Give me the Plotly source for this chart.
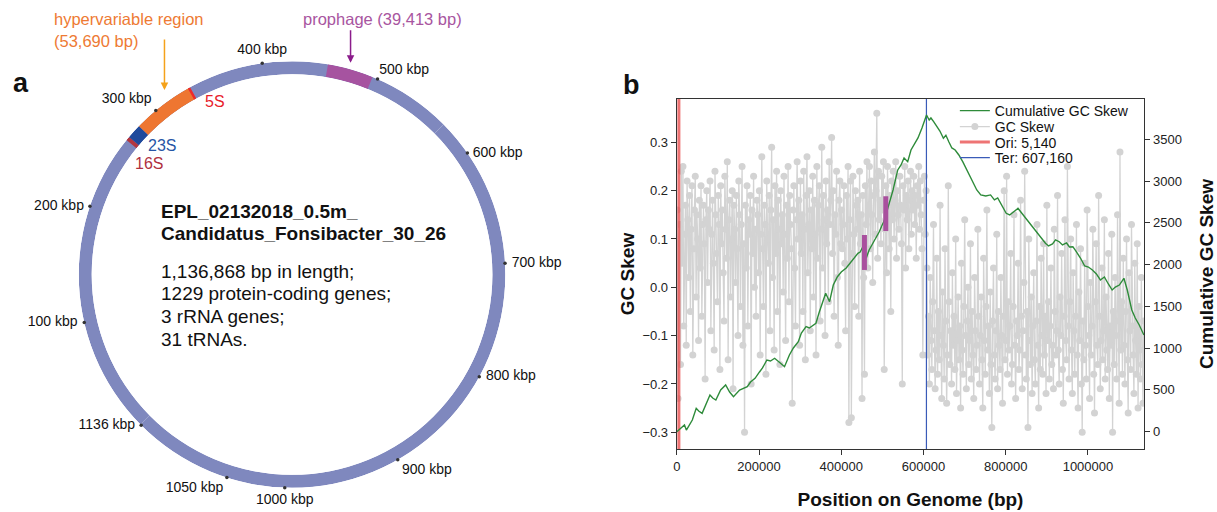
import numpy as np
import plotly.graph_objects as go

W, H = 1217, 512
genome_len = 1136868

# ---------------- panel a : circular genome ----------------
feat_name = ["16S", "23S", "hypervariable region", "5S", "prophage"]
feat_start = [264500, 268000, 280400, 333000, 456000]
feat_end = [268000, 280400, 334090, 335200, 495413]
feat_color = ["#B3363F", "#1F4A9C", "#EE7631", "#EE2A2A", "#A653A0"]
ring_color = "#7F88BE"

tick_kbp = [100, 200, 300, 400, 500, 600, 700, 800, 900, 1000, 1050, 1136]
tick_textpos = ["middle left", "middle left", "top left", "top center", "top right",
                "middle right", "middle right", "middle right", "bottom right",
                "bottom center", "bottom left", "middle left"]
tick_gap = [9, 8, 5, 7, 1, 7, 9, 9, 5, 8, 4, 8]

info_title = ["EPL_02132018_0.5m_", "Candidatus_Fonsibacter_30_26"]
info_lines = ["1,136,868 bp in length;", "1229 protein-coding genes;",
              "3 rRNA genes;", "31 tRNAs."]

# ---------------- panel b : GC skew ----------------
ori_bp = 5140
ter_bp = 607160
skew_first, skew_last = 1000, 1135800
gc_skew = [
    # origin -> terminus (leading strand, mostly positive)
    0.16, -0.23, 0.09, 0.13, -0.16, 0.24, 0.05, 0.25, -0.08, 0.11,
    0.17, -0.12, 0.22, 0.14, 0.02, 0.19, -0.05, 0.12, 0.21, -0.14,
    0.08, 0.16, 0.23, -0.02, 0.15, 0.10, -0.11, 0.18, 0.04, 0.21,
    -0.06, 0.13, 0.17, 0.09, -0.19, 0.14, 0.20, 0.01, 0.16, 0.12,
    0.22, -0.09, 0.11, 0.18, 0.05, -0.13, 0.24, 0.15, 0.07, -0.03,
    0.19, 0.13, -0.17, 0.21, 0.09, 0.16, 0.03, -0.07, 0.23, 0.12,
    0.06, 0.26, -0.15, 0.14, 0.18, -0.02, 0.10, 0.20, -0.21, 0.17,
    0.12, 0.01, 0.19, 0.08, -0.10, 0.22, 0.15, -0.04, 0.13, 0.25,
    -0.12, 0.09, -0.30, 0.17, 0.04, 0.21, -0.08, 0.14, 0.11, 0.19,
    -0.20, 0.16, 0.07, 0.23, 0.00, 0.12, -0.06, 0.18, 0.15, 0.03,
    0.20, -0.14, 0.11, 0.27, 0.08, -0.04, 0.17, 0.13, -0.18, 0.22,
    0.10, 0.05, 0.19, -0.09, 0.16, 0.29, 0.02, 0.14, -0.13, 0.21,
    0.07, 0.24, -0.05, 0.18, 0.12, -0.16, 0.20, 0.09, 0.15, -0.01,
    0.23, 0.11, -0.11, 0.17, 0.06, 0.25, -0.03, 0.19, 0.13, 0.08,
    -0.24, 0.16, 0.21, 0.04, -0.08, 0.14, 0.26, 0.10, 0.18, -0.12,
    0.22, 0.07, 0.15, -0.05, 0.24, 0.12, -0.15, 0.19, 0.27, 0.03,
    0.13, 0.20, -0.09, 0.16, 0.08, 0.23, -0.02, 0.18, 0.11, -0.14,
    0.25, 0.06, 0.17, 0.21, -0.07, 0.12, 0.29, 0.04, 0.19, 0.14,
    -0.10, 0.22, 0.09, 0.16, -0.03, 0.26, 0.13, 0.18, 0.31, 0.07,
    0.20, -0.06, 0.15, 0.11, 0.24, 0.02, -0.12, 0.18, 0.22, 0.09,
    0.16, 0.08, 0.13, 0.21, 0.05, -0.09, 0.19, 0.10, 0.25, -0.28,
    0.14, 0.22, -0.27, 0.07, 0.23, 0.11, -0.04, 0.20, 0.17, 0.12,
    0.18, -0.06, 0.24, 0.09, 0.15, -0.23, 0.19, 0.02, -0.18, 0.21,
    0.13, 0.26, 0.04, 0.17, 0.25, 0.08, 0.22, 0.15, 0.01, 0.19,
    0.28, 0.11, 0.20, 0.36, 0.06, 0.24, 0.14, 0.18, 0.09, 0.23,
    0.16, 0.26, -0.17, 0.12, 0.21, 0.03, 0.25, 0.17, 0.08, 0.19,
    -0.05, 0.22, 0.14, 0.24, 0.10, 0.18, 0.26, 0.06, 0.20, 0.15,
    0.12, 0.23, 0.17, 0.09, -0.20, 0.21, 0.16, 0.25, 0.04, 0.19,
    0.14, 0.22, 0.08, 0.18, 0.24, 0.11, 0.20, 0.16, 0.23, 0.13,
    0.19, 0.06, 0.21, 0.17, 0.25, 0.12, 0.22, 0.15, 0.08, -0.14,
    0.18, 0.23, 0.11, 0.20,
    # terminus -> origin (lagging strand, mostly negative)
    0.04, -0.14, -0.06, -0.20, 0.02, -0.11, -0.17, -0.03, 0.13, -0.09,
    -0.21, -0.13, 0.06, -0.18, -0.05, -0.15, 0.17, -0.10, -0.23, -0.01,
    -0.12, -0.19, 0.08, -0.07, -0.24, -0.14, 0.21, -0.03, -0.16, -0.09,
    -0.20, 0.03, -0.12, -0.06, -0.17, 0.10, -0.22, -0.11, -0.02, -0.15,
    -0.08, -0.25, 0.05, -0.13, -0.18, -0.04, 0.14, -0.10, -0.21, -0.07,
    0.00, -0.16, -0.11, 0.09, -0.19, -0.05, -0.14, -0.23, 0.02, -0.09,
    -0.17, -0.12, 0.12, -0.06, -0.20, -0.10, -0.02, -0.15, -0.25, 0.06,
    -0.11, -0.18, -0.04, 0.16, -0.13, -0.08, -0.22, -0.01, -0.16, -0.29,
    -0.07, 0.04, -0.14, -0.19, -0.09, 0.11, -0.21, -0.05, -0.12, -0.17,
    0.02, -0.10, -0.24, -0.06, 0.20, -0.15, -0.11, 0.23, -0.18, -0.03,
    -0.13, -0.08, 0.07, -0.20, -0.16, -0.04, 0.15, -0.12, -0.23, -0.07,
    -0.10, 0.05, -0.17, -0.13, 0.18, -0.06, -0.21, -0.09, 0.01, 0.24,
    -0.14, -0.19, -0.05, -0.29, 0.10, -0.11, -0.16, -0.02, -0.22, -0.08,
    0.03, -0.15, -0.20, -0.07, 0.13, -0.12, -0.25, -0.04, -0.17, 0.06,
    -0.10, -0.18, 0.09, -0.14, -0.06, -0.22, 0.17, -0.11, -0.03, -0.19,
    -0.08, 0.04, -0.16, -0.12, -0.21, 0.12, -0.05, -0.14, -0.09, 0.19,
    -0.13, -0.20, -0.02, -0.10, 0.07, -0.17, -0.24, -0.06, 0.14, -0.11,
    -0.15, 0.25, -0.08, -0.19, -0.03, 0.10, -0.13, -0.22, 0.03, -0.09,
    -0.18, -0.06, 0.13, -0.14, -0.25, -0.01, -0.11, 0.08, -0.20, -0.30,
    -0.07, -0.15, 0.05, -0.12, -0.19, 0.16, -0.04, -0.10, -0.23, 0.01,
    -0.14, -0.08, 0.12, -0.18, -0.26, -0.03, 0.09, -0.12, -0.16, 0.19,
    -0.06, -0.21, -0.11, 0.04, -0.15, -0.09, 0.14, -0.19, -0.02, -0.13,
    -0.17, 0.07, -0.23, -0.08, -0.12, 0.11, -0.30, -0.05, -0.16, 0.02,
    -0.10, -0.19, 0.15, -0.07, -0.24, 0.28, -0.13, -0.03, -0.18, 0.06,
    -0.12, -0.20, -0.05, 0.10, -0.15, -0.26, 0.03, -0.09, -0.17, 0.13,
    -0.08, -0.14, -0.22, 0.05, -0.11, -0.18, 0.09, -0.25, -0.04, -0.13,
    -0.19, 0.02, -0.16, -0.24, -0.07,
]
skew_pos = np.linspace(skew_first, skew_last, len(gc_skew))

cum_bp = [0, 9000, 18700, 23300, 37800, 47300, 53300, 61600, 72700, 80700,
          87300, 95000, 106700, 118800, 128500, 137900, 152700, 171400, 179400, 190300,
          201200, 208500, 219100, 227900, 238000, 247200, 254500, 262000, 273900, 283600,
          295500, 303000, 314400, 322400, 338400, 346600, 353900, 362100, 371600, 380600,
          390700, 400000, 412100, 419400, 429000, 440500, 446000, 452600, 455700, 460600,
          467800, 480700, 492100, 504900, 516300, 526000, 537400, 545400, 552700, 561600,
          569600, 577600, 586600, 596300, 607400,
          613900, 618100, 624700, 632700, 639900, 648400, 654500, 661800, 669000, 677000,
          686000, 695700, 705600, 715100, 722400, 729600, 739300, 751400, 763100, 772500,
          780500, 790200, 801100, 809600, 819300, 829800, 838700, 848400, 858100, 867800,
          877500, 887200, 896600, 904200, 913800, 921100, 930100, 938100, 947800, 955100,
          963300, 972000, 981700, 992100, 1001100, 1010800, 1020500, 1030200, 1039900, 1049600,
          1058800, 1066600, 1076300, 1087400, 1095600, 1106600, 1115000, 1124700, 1136000]
cum_skew = [0, 41, 80, 20, 140, 280, 248, 220, 356, 439,
            403, 379, 499, 559, 475, 419, 499, 539, 595, 639,
            715, 763, 858, 846, 879, 834, 810, 778, 918, 1002,
            1077, 1181, 1257, 1241, 1298, 1433, 1553, 1657, 1556, 1756,
            1855, 1912, 1960, 2005, 2055, 2135, 2151, 2214, 2175, 2076,
            2175, 2295, 2390, 2534, 2714, 2893, 3133, 3193, 3276, 3232,
            3372, 3432, 3516, 3635, 3791,
            3731, 3755, 3711, 3659, 3599, 3512, 3548, 3468, 3396, 3372,
            3312, 3229, 3133, 3037, 2953, 2893, 2834, 2822, 2834, 2774,
            2798, 2714, 2614, 2594, 2630, 2674, 2618, 2558, 2495, 2438,
            2367, 2319, 2255, 2223, 2247, 2295, 2274, 2235, 2259, 2211,
            2214, 2151, 2079, 1983, 1971, 1935, 1888, 1816, 1852, 1768,
            1696, 1731, 1755, 1836, 1696, 1457, 1361, 1277, 1158]

mark_bp = [456400, 508300]
mark_lo = [1936, 2402]
mark_hi = [2355, 2818]

y_ticks = [-0.3, -0.2, -0.1, 0.0, 0.1, 0.2, 0.3]
y2_ticks = [0, 500, 1000, 1500, 2000, 2500, 3000, 3500]
x_ticks = [0, 200000, 400000, 600000, 800000, 1000000]

# ---------------- helpers ----------------
def to_deg(bp):
    return np.asarray(bp, dtype=float) / genome_len * 360.0

def px(x):
    return x / W

def py(y):
    return 1 - y / H

FONT = "Liberation Sans, Arial, sans-serif"
fig = go.Figure()

# ring background (two halves) and coloured features
bg_s = np.array([0, genome_len / 2])
bg_e = np.array([genome_len / 2, genome_len])
fig.add_trace(go.Barpolar(r=[1, 1], base=[0, 0], theta=to_deg((bg_s + bg_e) / 2),
                          width=to_deg(bg_e - bg_s), marker=dict(color=ring_color, line=dict(width=0)),
                          showlegend=False, hoverinfo="skip"))
fs = np.array(feat_start)
fe = np.array(feat_end)
fig.add_trace(go.Barpolar(r=[1] * len(fs), base=[0] * len(fs), theta=to_deg((fs + fe) / 2),
                          width=to_deg(fe - fs), marker=dict(color=feat_color, line=dict(width=0)),
                          showlegend=False, hoverinfo="skip"))
tick_theta = to_deg(np.array(tick_kbp) * 1000)
fig.add_trace(go.Scatterpolar(r=[1.0] * len(tick_kbp), theta=tick_theta, mode="markers+text",
                              text=[f"{k} kbp" for k in tick_kbp], textposition=tick_textpos,
                              textfont=dict(size=14, color="#111111", family=FONT),
                              marker=dict(size=tick_gap, color="rgba(0,0,0,0)", opacity=0,
                                          line=dict(width=0)),
                              cliponaxis=False, showlegend=False, hoverinfo="skip"))
fig.add_trace(go.Scatterpolar(r=[1.0] * len(tick_kbp), theta=tick_theta, mode="markers",
                              marker=dict(size=3.5, color="#333333", line=dict(width=0)),
                              cliponaxis=False, showlegend=False, hoverinfo="skip"))

# ---------------- panel b traces ----------------
yr = [-0.3346, 0.3896]
y2r = [-207, 3982]
fig.add_trace(go.Scatter(x=skew_pos, y=gc_skew, mode="lines+markers", name="GC Skew",
                         line=dict(color="#D3D3D3", width=1.3),
                         marker=dict(size=7, color="#D3D3D3"), xaxis="x", yaxis="y",
                         legend="legend2"))
fig.add_trace(go.Scatter(x=[ori_bp, ori_bp], y=yr, mode="lines", name=f"Ori: {ori_bp:,}",
                         line=dict(color="rgba(232,70,70,0.75)", width=3), xaxis="x", yaxis="y",
                         legend="legend3"))
fig.add_trace(go.Scatter(x=[ter_bp, ter_bp], y=yr, mode="lines", name=f"Ter: {ter_bp:,}",
                         line=dict(color="#3A5BB8", width=1.2), xaxis="x", yaxis="y",
                         legend="legend4"))
fig.add_trace(go.Scatter(x=cum_bp, y=cum_skew, mode="lines", name="Cumulative GC Skew",
                         line=dict(color="#2E8B3A", width=1.4), xaxis="x", yaxis="y2",
                         legend="legend"))
for b, lo, hi in zip(mark_bp, mark_lo, mark_hi):
    fig.add_trace(go.Scatter(x=[b, b], y=[lo, hi], mode="lines",
                             line=dict(color="#A9509E", width=5), xaxis="x", yaxis="y2",
                             showlegend=False, hoverinfo="skip"))

ax_common = dict(showgrid=False, zeroline=False, showline=True, linecolor="#333333",
                 linewidth=1.2, ticks="outside", ticklen=5, tickcolor="#333333",
                 tickfont=dict(size=13, color="#222222", family=FONT))

def legend_at(row_y):
    return dict(x=px(954), y=py(row_y), xanchor="left", yanchor="middle",
                bgcolor="rgba(255,255,255,0)", borderwidth=0,
                font=dict(size=14, family=FONT, color="#111111"), itemwidth=30)

fig.update_layout(
    width=W, height=H, margin=dict(l=0, r=0, t=0, b=0),
    paper_bgcolor="white", plot_bgcolor="white",
    font=dict(family=FONT, color="#111111"),
    polar=dict(domain=dict(x=[px(75), px(503)], y=[py(488.5), py(60.5)]),
               hole=201 / 214, bgcolor="rgba(0,0,0,0)",
               radialaxis=dict(visible=False, range=[0, 1]),
               angularaxis=dict(visible=False, rotation=224.7, direction="clockwise")),
    xaxis=dict(domain=[px(675), px(1144)], range=[0, genome_len], mirror=True,
               tickvals=x_ticks, ticktext=[str(v) for v in x_ticks],
               title=dict(text="<b>Position on Genome (bp)</b>", font=dict(size=19, family=FONT),
                          standoff=19),
               anchor="y", **ax_common),
    yaxis=dict(domain=[py(449), py(99)], range=yr, tickvals=y_ticks,
               ticktext=[f"{v:.1f}".replace("-", "\u2212") for v in y_ticks],
               title=dict(text="<b>GC Skew</b>", font=dict(size=19, family=FONT), standoff=2),
               anchor="x", **ax_common),
    yaxis2=dict(overlaying="y", side="right", range=y2r, tickvals=y2_ticks,
                ticktext=[str(v) for v in y2_ticks],
                title=dict(text="<b>Cumulative GC Skew</b>", font=dict(size=19, family=FONT),
                           standoff=19),
                anchor="x", **ax_common),
    legend=legend_at(111), legend2=legend_at(127), legend3=legend_at(142.5),
    legend4=legend_at(158),
    showlegend=True,
)

ann = []
ann.append(dict(text="<b>a</b>", x=px(17.5), y=py(83), font=dict(size=27)))
ann.append(dict(text="<b>b</b>", x=px(629.5), y=py(85), font=dict(size=27)))
for t, yy in zip(info_title, [211, 233.5]):
    ann.append(dict(text=f"<b>{t}</b>", x=px(157), y=py(yy), xanchor="left", font=dict(size=19)))
for t, yy in zip(info_lines, [271, 293.5, 316, 339]):
    ann.append(dict(text=t, x=px(157), y=py(yy), xanchor="left", font=dict(size=19)))
ann.append(dict(text="hypervariable region", x=px(49), y=py(19), xanchor="left",
                font=dict(size=16.5, color="#EE7A33")))
ann.append(dict(text="(53,690 bp)", x=px(49), y=py(41), xanchor="left",
                font=dict(size=16.5, color="#EE7A33")))
ann.append(dict(text="prophage (39,413 bp)", x=px(299), y=py(19), xanchor="left",
                font=dict(size=16.5, color="#A855A0")))
ann.append(dict(text="5S", x=px(211.7), y=py(101.7), font=dict(size=16, color="#E8202A")))
ann.append(dict(text="23S", x=px(158.3), y=py(145), font=dict(size=16, color="#2655A5")))
ann.append(dict(text="16S", x=px(145), y=py(163.3), font=dict(size=16, color="#B03040")))
for a in ann:
    a.setdefault("xanchor", "center")
    a.setdefault("yanchor", "middle")
    a.update(xref="paper", yref="paper", showarrow=False, borderpad=0)
    a["font"].setdefault("family", FONT)
    a["font"].setdefault("color", "#111111")
# arrows
ann.append(dict(x=px(161), y=py(90), ax=0, ay=-52, xref="paper", yref="paper", text="",
                showarrow=True, arrowhead=2, arrowsize=1, arrowwidth=1.5, arrowcolor="#F5A21B"))
ann.append(dict(x=px(347.7), y=py(62.7), ax=0, ay=-34, xref="paper", yref="paper", text="",
                showarrow=True, arrowhead=2, arrowsize=1, arrowwidth=1.5, arrowcolor="#8B1C8B"))
fig.update_layout(annotations=ann)

fig.write_html("out.html", config={"displayModeBar": False},
               post_script="document.body.style.margin='0px';document.body.style.overflow='hidden';")
